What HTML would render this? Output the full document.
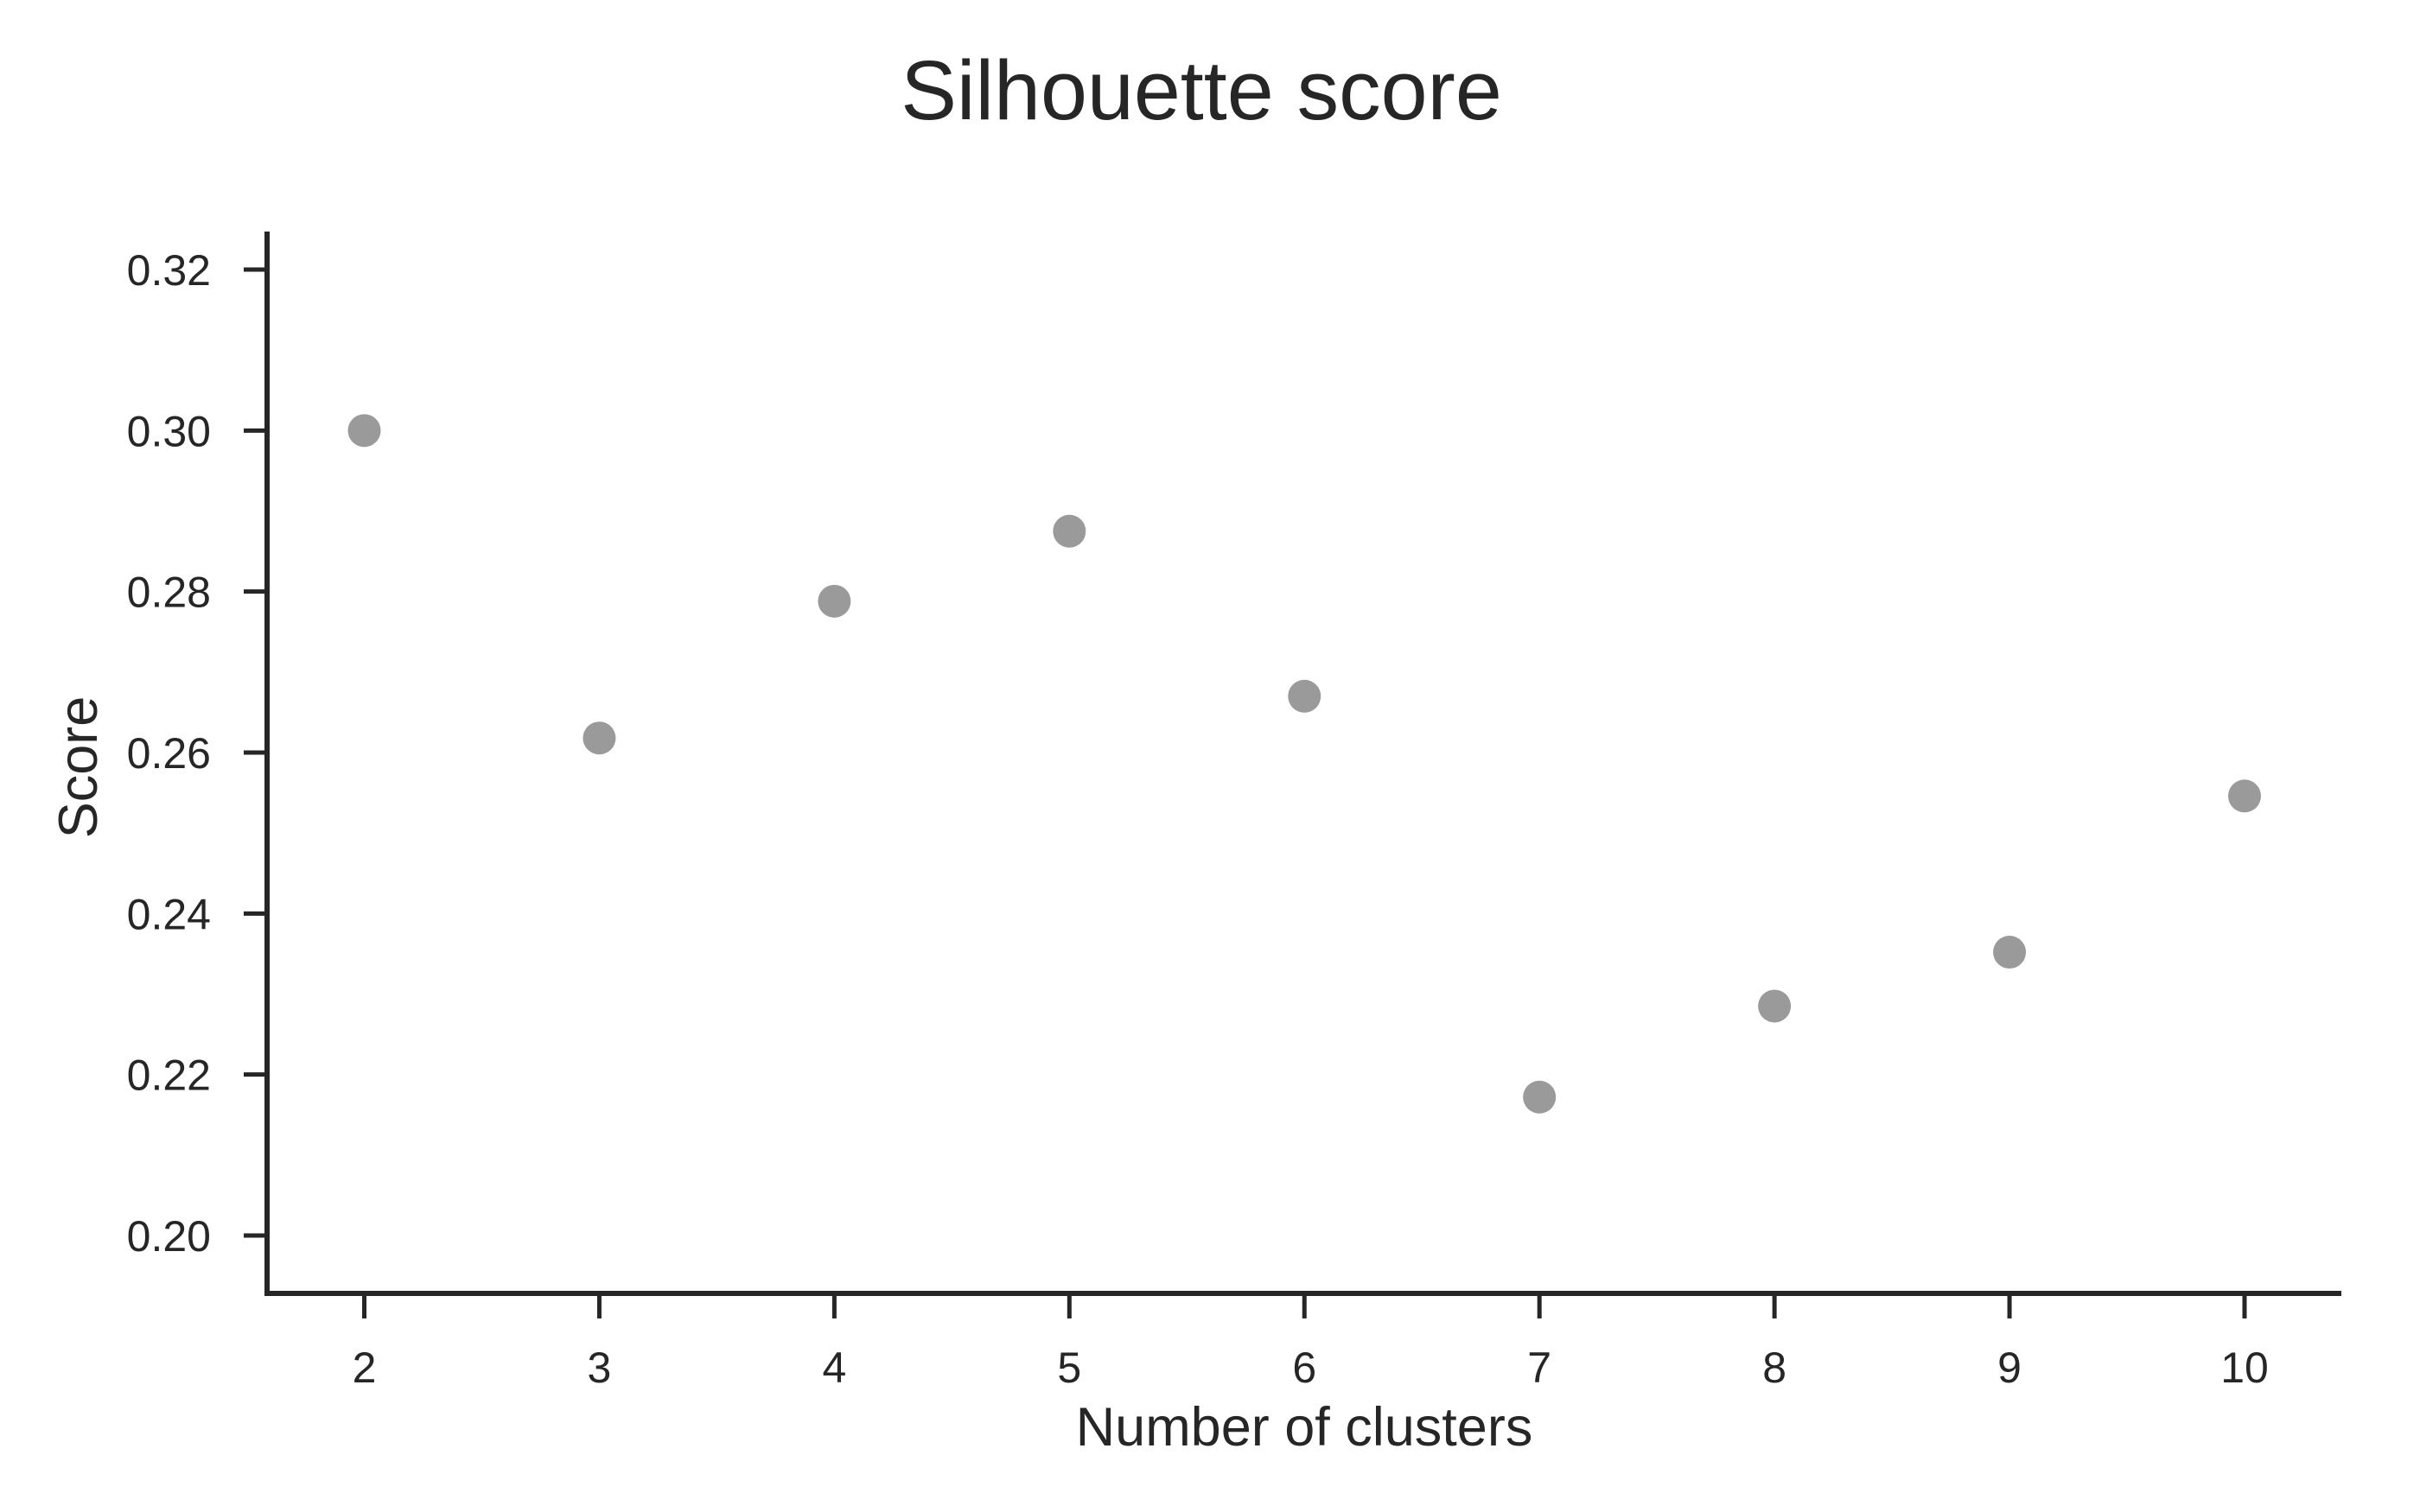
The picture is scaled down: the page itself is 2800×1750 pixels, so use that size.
<!DOCTYPE html>
<html><head><meta charset="utf-8"><style>
html,body{margin:0;padding:0;background:#fff;}
svg{display:block;font-family:"Liberation Sans",Arial,sans-serif;}
</style></head><body>
<svg id="chart" width="2800" height="1750" viewBox="0 0 2800 1750" xmlns="http://www.w3.org/2000/svg">
<rect width="2800" height="1750" fill="#fff"/>
<text x="1390" y="138" font-size="97" fill="#262626" text-anchor="middle">Silhouette score</text>
<text x="1509" y="1673" font-size="63" fill="#262626" text-anchor="middle">Number of clusters</text>
<text transform="translate(112,888) rotate(-90)" font-size="63" fill="#262626" text-anchor="middle">Score</text>
<g id="ticks"></g>
<g id="points"></g>
<line x1="309" y1="268" x2="309" y2="1500" stroke="#262626" stroke-width="6"/>
<line x1="306" y1="1497" x2="2709" y2="1497" stroke="#262626" stroke-width="6"/>
</svg>
<script>
const clusters = [2,3,4,5,6,7,8,9,10];
const scores = [0.300,0.2618,0.2788,0.2875,0.2670,0.2172,0.2285,0.2352,0.2546];
const yTicks = [0.20,0.22,0.24,0.26,0.28,0.30,0.32];
const yTickLabels = ["0.20","0.22","0.24","0.26","0.28","0.30","0.32"];
const xTicks = [2,3,4,5,6,7,8,9,10];
const xTickLabels = ["2","3","4","5","6","7","8","9","10"];

const NS = "http://www.w3.org/2000/svg";
function xScale(v){ return 421.5 + (v-2)*(2597-421.5)/8; }
function yScale(v){ return 1430 - (v-0.20)*(1430-312)/0.12; }

const tg = document.getElementById('ticks');
yTicks.forEach((t,i)=>{
  const y = yScale(t);
  const l = document.createElementNS(NS,'line');
  l.setAttribute('x1',282); l.setAttribute('x2',309); l.setAttribute('y1',y); l.setAttribute('y2',y);
  l.setAttribute('stroke','#262626'); l.setAttribute('stroke-width',5);
  
  
  tg.appendChild(l);
  const tx = document.createElementNS(NS,'text');
  tx.setAttribute('x',244); tx.setAttribute('y',y+18);
  tx.setAttribute('font-size',50); tx.setAttribute('fill','#262626'); tx.setAttribute('text-anchor','end');
  tx.textContent = yTickLabels[i];
  
  
  tg.appendChild(tx);
});
xTicks.forEach((t,i)=>{
  const x = xScale(t);
  const l = document.createElementNS(NS,'line');
  l.setAttribute('x1',x); l.setAttribute('x2',x); l.setAttribute('y1',1497); l.setAttribute('y2',1526);
  l.setAttribute('stroke','#262626'); l.setAttribute('stroke-width',5);
  
  
  tg.appendChild(l);
  const tx = document.createElementNS(NS,'text');
  tx.setAttribute('x',x); tx.setAttribute('y',1600);
  tx.setAttribute('font-size',50); tx.setAttribute('fill','#262626'); tx.setAttribute('text-anchor','middle');
  tx.textContent = xTickLabels[i];
  
  
  tg.appendChild(tx);
});
const pg = document.getElementById('points');
clusters.forEach((c,i)=>{
  const p = document.createElementNS(NS,'circle');
  p.setAttribute('cx',xScale(c)); p.setAttribute('cy',yScale(scores[i])); p.setAttribute('r',19);
  p.setAttribute('fill','#9a9a9a');
  
  
  pg.appendChild(p);
});
</script>
</body></html>
